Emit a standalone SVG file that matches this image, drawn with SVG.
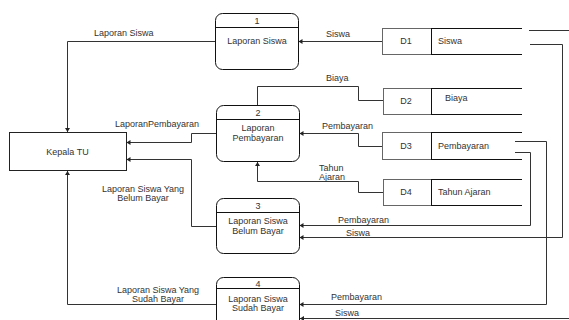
<svg xmlns="http://www.w3.org/2000/svg" width="569" height="320" viewBox="0 0 569 320">
<style>
text{font-family:"Liberation Sans",Arial,sans-serif;font-size:9px;fill:#333}
.c{text-anchor:middle}
.proc{fill:#fff;stroke:#111;stroke-width:1}
.hdr{stroke:#111;stroke-width:1}
.ent{fill:#fff;stroke:#222;stroke-width:1}
.dsb{fill:#fff;stroke:#666;stroke-width:1}
.dsl{stroke:#111;stroke-width:1.2}
.dsd{stroke:#111;stroke-width:1}
.e{fill:none;stroke:#333;stroke-width:1}
.ea{fill:none;stroke:#333;stroke-width:1;marker-end:url(#ah)}
</style>
<defs>
<marker id="ah" markerUnits="userSpaceOnUse" markerWidth="5" markerHeight="5" refX="4" refY="2.5" orient="auto">
<path d="M0,0 L4,2.5 L0,5 Z" fill="#222"/>
</marker>
</defs>
<rect width="569" height="320" fill="#fff"/>
<g id="connectors">
<polyline class="ea" points="215,41.5 67.5,41.5 67.5,132"/>
<polyline class="ea" points="382,41.5 298.5,41.5"/>
<polyline class="e" points="383,100.5 358.5,100.5 358.5,86.5 257.5,86.5 257.5,106"/>
<polyline class="ea" points="382,146.5 358.5,146.5 358.5,133.5 299.5,133.5"/>
<polyline class="ea" points="383,192.5 358.5,192.5 358.5,181.5 257.5,181.5 257.5,162"/>
<polyline class="ea" points="216,133.5 191.5,133.5 191.5,142.5 126.5,142.5"/>
<polyline class="ea" points="216,226.5 191.5,226.5 191.5,159.5 126.5,159.5"/>
<polyline class="ea" points="216,304.5 67.5,304.5 67.5,171"/>
<polyline class="ea" points="515,152.5 530.5,152.5 530.5,225.5 299.5,225.5"/>
<polyline class="ea" points="530,44.5 562.5,44.5 562.5,237.5 299.5,237.5"/>
<polyline class="ea" points="515,141.5 546.5,141.5 546.5,304.5 299.5,304.5"/>
<line class="e" x1="529" y1="30.5" x2="569" y2="30.5"/>
<polyline class="ea" points="569,318.5 300,318.5"/>
</g>
<g id="edge-labels">
<text x="94" y="36">Laporan Siswa</text>
<text x="326" y="37">Siswa</text>
<text x="326" y="81">Biaya</text>
<text x="115" y="127">LaporanPembayaran</text>
<text x="322" y="129">Pembayaran</text>
<text x="319" y="171">Tahun</text>
<text x="319" y="180">Ajaran</text>
<text class="c" x="143" y="192">Laporan Siswa Yang</text>
<text class="c" x="143" y="201">Belum Bayar</text>
<text class="c" x="158" y="293">Laporan Siswa Yang</text>
<text class="c" x="158" y="302">Sudah Bayar</text>
<text x="338" y="223">Pembayaran</text>
<text x="346" y="236">Siswa</text>
<text x="331" y="300">Pembayaran</text>
<text x="335" y="316">Siswa</text>
</g>
<g id="kepala-tu">
<rect class="ent" x="9.5" y="132.5" width="117" height="38"/>
<text class="c" x="67.5" y="155">Kepala TU</text>
</g>
<g id="p1">
<rect class="proc" x="215.5" y="13.5" width="83" height="56" rx="7"/>
<line class="hdr" x1="215.5" y1="27.5" x2="298.5" y2="27.5"/>
<text class="c" x="257" y="24">1</text>
<text class="c" x="257" y="44">Laporan Siswa</text>
</g>
<g id="p2">
<rect class="proc" x="216.5" y="105.5" width="83" height="56" rx="7"/>
<line class="hdr" x1="216.5" y1="119.5" x2="299.5" y2="119.5"/>
<text class="c" x="258" y="116">2</text>
<text class="c" x="258" y="131">Laporan</text>
<text class="c" x="258" y="141">Pembayaran</text>
</g>
<g id="p3">
<rect class="proc" x="216.5" y="198.5" width="83" height="55" rx="7"/>
<line class="hdr" x1="216.5" y1="212.5" x2="299.5" y2="212.5"/>
<text class="c" x="258" y="209">3</text>
<text class="c" x="258" y="224">Laporan Siswa</text>
<text class="c" x="258" y="234">Belum Bayar</text>
</g>
<g id="p4">
<rect class="proc" x="216.5" y="277.5" width="83" height="56" rx="7"/>
<line class="hdr" x1="216.5" y1="288.5" x2="299.5" y2="288.5"/>
<text class="c" x="258" y="287">4</text>
<text class="c" x="258" y="302">Laporan Siswa</text>
<text class="c" x="258" y="311">Sudah Bayar</text>
</g>
<g id="d1">
<rect class="dsb" x="382.5" y="28.5" width="49" height="26"/>
<line class="dsl" x1="431" y1="28.5" x2="522" y2="28.5"/>
<line class="dsl" x1="431" y1="54.5" x2="522" y2="54.5"/>
<line class="dsd" x1="431.5" y1="28.5" x2="431.5" y2="54.5"/>
<text class="c" x="406" y="44">D1</text>
<text x="438" y="44">Siswa</text>
</g>
<g id="d2">
<rect class="dsb" x="383.5" y="88.5" width="48" height="26"/>
<line class="dsl" x1="431" y1="88.5" x2="522" y2="88.5"/>
<line class="dsl" x1="431" y1="114.5" x2="522" y2="114.5"/>
<line class="dsd" x1="431.5" y1="88.5" x2="431.5" y2="114.5"/>
<text class="c" x="406" y="104">D2</text>
<text x="445" y="101">Biaya</text>
</g>
<g id="d3">
<rect class="dsb" x="382.5" y="132.5" width="49" height="27"/>
<line class="dsl" x1="431" y1="132.5" x2="522" y2="132.5"/>
<line class="dsl" x1="431" y1="159.5" x2="522" y2="159.5"/>
<line class="dsd" x1="431.5" y1="132.5" x2="431.5" y2="159.5"/>
<text class="c" x="406" y="149">D3</text>
<text x="438" y="149">Pembayaran</text>
</g>
<g id="d4">
<rect class="dsb" x="383.5" y="179.5" width="48" height="26"/>
<line class="dsl" x1="431" y1="179.5" x2="522" y2="179.5"/>
<line class="dsl" x1="431" y1="205.5" x2="522" y2="205.5"/>
<line class="dsd" x1="431.5" y1="179.5" x2="431.5" y2="205.5"/>
<text class="c" x="406" y="195">D4</text>
<text x="438" y="195">Tahun Ajaran</text>
</g>
</svg>
